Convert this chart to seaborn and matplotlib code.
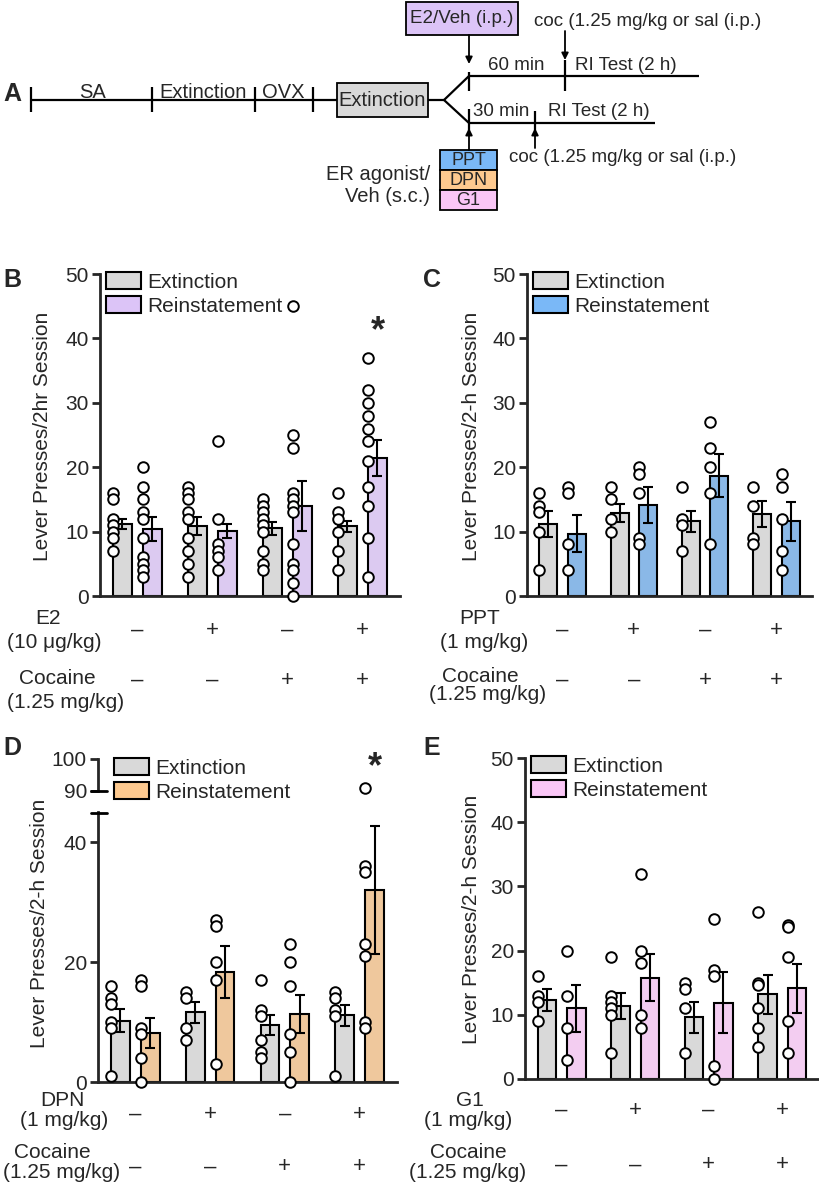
import numpy as np
import pandas as pd
import matplotlib
matplotlib.use("Agg")
import matplotlib.pyplot as plt
import seaborn as sns
from matplotlib import font_manager, transforms
from matplotlib.patches import Patch, Rectangle

# ---------------- data ----------------
groups = ["1", "2", "3", "4"]
phases = ["Extinction", "Reinstatement"]
treat_signs = ["–", "+", "–", "+"]
coc_signs = ["–", "–", "+", "+"]

B_ext_pts = [[16, 15, 12, 11, 10, 9, 7], [17, 16, 15, 13, 12, 9, 7, 5, 3],
             [15, 14, 13, 12, 11, 10, 7, 5, 4], [16, 13, 12, 10, 7, 4]]
B_rei_pts = [[20, 17, 15, 13, 12, 9, 6, 5, 4, 3], [24, 12, 8, 7, 6, 4],
             [45, 25, 23, 16, 15, 14, 13, 8, 5, 4, 2, 0],
             [37, 32, 30, 28, 26, 24, 21, 17, 14, 9, 3]]
B_ext_mean = [11.2, 10.9, 10.5, 10.8]
B_ext_sem = [0.8, 1.4, 1.0, 0.9]
B_rei_mean = [10.4, 10.1, 14.0, 21.4]
B_rei_sem = [1.8, 1.1, 3.9, 2.8]

C_ext_pts = [[16, 14, 13, 10, 4], [17, 15, 12, 10], [17, 12, 11, 7], [17, 14, 9, 8]]
C_rei_pts = [[17, 16, 8, 4], [20, 19, 16, 9, 8], [27, 23, 20, 16, 8], [19, 17, 12, 7, 4]]
C_ext_mean = [11.2, 12.9, 11.6, 12.7]
C_ext_sem = [2.0, 1.4, 1.6, 2.0]
C_rei_mean = [9.7, 14.1, 18.7, 11.6]
C_rei_sem = [2.9, 2.8, 3.3, 3.0]

D_ext_pts = [[16, 14, 13, 10, 9, 1], [15, 14, 9, 7], [17, 12, 11, 7, 5, 4], [15, 14, 12, 11, 1]]
D_rei_pts = [[17, 16, 9, 8, 4, 0], [27, 26, 20, 17, 3], [23, 20, 16, 8, 5, 0],
             [91, 36, 35, 23, 21, 10, 9]]
D_ext_mean = [10.2, 11.6, 9.5, 11.1]
D_ext_sem = [1.9, 1.75, 1.7, 1.8]
D_rei_mean = [8.1, 18.3, 11.3, 32.0]
D_rei_sem = [2.5, 4.3, 3.2, 10.6]

E_ext_pts = [[16, 13, 12, 9], [19, 13, 12, 11, 10, 4], [15, 14, 11, 4], [26, 15, 14.7, 11, 8, 5]]
E_rei_pts = [[20, 13, 8, 3], [32, 20, 18, 10, 8], [25, 17, 16, 2, 0], [24, 23.7, 19, 9, 4]]
E_ext_mean = [12.3, 11.4, 9.6, 13.2]
E_ext_sem = [1.65, 2.0, 2.4, 3.0]
E_rei_mean = [11.0, 15.8, 11.9, 14.1]
E_rei_sem = [3.7, 3.7, 4.8, 3.8]

GRAY = "#d9d9d9"
PURPLE = "#dcc4f7"
BLUE = "#7ab8f7"
ORANGE = "#fdc98f"
PINK = "#fac6f6"

# ---------------- style ----------------
sns.set_style("ticks")
names = {f.name for f in font_manager.fontManager.ttflist}
REG = "Liberation Sans" if "Liberation Sans" in names else "DejaVu Sans"
plt.rcParams["font.family"] = [REG, "DejaVu Sans"]
FS = 15

W, H = 820, 1189
fig = plt.figure(figsize=(8.2, 11.89), dpi=100)

# overlay axes in pixel coordinates for annotations
axA = fig.add_axes([0, 0, 1, 1])
axA.set_xlim(0, W)
axA.set_ylim(H, 0)
axA.axis("off")
axA.set_zorder(10)
axA.patch.set_visible(False)


def make_ax(l, t, r, b):
    ax = fig.add_axes([l / W, 1 - b / H, (r - l) / W, (b - t) / H])
    ax.set_facecolor("none")
    return ax


def draw_bars(ax, ext_mean, rei_mean, color):
    df = pd.DataFrame({"group": groups * 2,
                       "phase": [phases[0]] * 4 + [phases[1]] * 4,
                       "value": list(ext_mean) + list(rei_mean)})
    sns.barplot(data=df, x="group", y="value", hue="phase", order=groups,
                hue_order=phases, palette=[GRAY, color], width=0.8, gap=0.375,
                errorbar=None, edgecolor="black", linewidth=1.5, ax=ax,
                legend=False, zorder=2)


def draw_err(ax, ext_mean, ext_sem, rei_mean, rei_sem):
    x = np.arange(4)
    for off, m, s in [(-0.2, ext_mean, ext_sem), (0.2, rei_mean, rei_sem)]:
        ax.errorbar(x + off, m, yerr=s, fmt="none", ecolor="black",
                    elinewidth=1.5, capsize=3.5, capthick=1.5, zorder=3)


def draw_pts(ax, ext_pts, rei_pts, lo=-np.inf, hi=np.inf):
    xs, ys = [], []
    for i in range(4):
        for off, pts in [(-0.325, ext_pts[i]), (0.075, rei_pts[i])]:
            for v in pts:
                if lo <= v <= hi:
                    xs.append(i + off)
                    ys.append(v)
    if xs:
        ax.scatter(xs, ys, s=58, facecolor="white", edgecolor="black",
                   linewidth=1.4, zorder=4, clip_on=False)


def style_ax(ax, ticks, bottom=True):
    ax.set_xlim(-0.5, 3.5)
    ax.set_xticks([])
    ax.set_xlabel("")
    ax.set_ylabel("")
    for s in ["top", "right"]:
        ax.spines[s].set_visible(False)
    ax.spines["left"].set_linewidth(2)
    ax.spines["bottom"].set_linewidth(2)
    if not bottom:
        ax.spines["bottom"].set_visible(False)
    ax.set_yticks(ticks)
    ax.set_yticklabels([str(t) for t in ticks])
    ax.tick_params(axis="y", length=6, width=2, labelsize=FS, pad=2,
                   direction="out")


def legend(ax, color, x, y):
    handles = [Patch(facecolor=GRAY, edgecolor="black", linewidth=1.5),
               Patch(facecolor=color, edgecolor="black", linewidth=1.5)]
    ax.legend(handles, phases, loc="upper left",
              bbox_to_anchor=(x / W, 1 - y / H), bbox_transform=fig.transFigure,
              frameon=False, fontsize=FS, handlelength=1.7, handleheight=0.9,
              handletextpad=0.3, labelspacing=0.2, borderpad=0, borderaxespad=0)


def sign_rows(ax, treat_name, treat_dose, ty, lab_x, tsy, csy,
              coc_lab_x, coc_lab_y):
    tr = transforms.blended_transform_factory(ax.transData, axA.transData)
    for i in range(4):
        ax.text(i, tsy, treat_signs[i], transform=tr, ha="center", va="center",
                fontsize=16)
        ax.text(i, csy, coc_signs[i], transform=tr, ha="center", va="center",
                fontsize=16)
    axA.text(lab_x[0], ty[0], treat_name, ha="center", va="center", fontsize=FS)
    axA.text(lab_x[1], ty[1], treat_dose, ha="center", va="center", fontsize=FS)
    axA.text(coc_lab_x[0], coc_lab_y[0], "Cocaine", ha="center", va="center",
             fontsize=FS)
    axA.text(coc_lab_x[1], coc_lab_y[1], "(1.25 mg/kg)", ha="center",
             va="center", fontsize=FS)


# ---------------- Panel B ----------------
axB = make_ax(100, 274, 400, 596)
draw_bars(axB, B_ext_mean, B_rei_mean, PURPLE)
draw_err(axB, B_ext_mean, B_ext_sem, B_rei_mean, B_rei_sem)
draw_pts(axB, B_ext_pts, B_rei_pts)
axB.set_ylim(0, 50)
style_ax(axB, [0, 10, 20, 30, 40, 50])
legend(axB, PURPLE, 106, 272)
axB.text(3.2, 41, "*", ha="center", va="center", fontsize=26, fontweight="bold")
axA.text(43, 436, "Lever Presses/2hr Session", rotation=90, ha="center",
         va="center", fontsize=FS)
sign_rows(axB, "E2", "(10 μg/kg)", (618, 643), (48, 54), 630, 680,
          (57, 66), (678, 703))

# ---------------- Panel C ----------------
axC = make_ax(527, 274, 812, 596)
draw_bars(axC, C_ext_mean, C_rei_mean, BLUE)
draw_err(axC, C_ext_mean, C_ext_sem, C_rei_mean, C_rei_sem)
draw_pts(axC, C_ext_pts, C_rei_pts)
axC.set_ylim(0, 50)
style_ax(axC, [0, 10, 20, 30, 40, 50])
legend(axC, BLUE, 533, 272)
axA.text(472, 436, "Lever Presses/2-h Session", rotation=90, ha="center",
         va="center", fontsize=FS)
sign_rows(axC, "PPT", "(1 mg/kg)", (618, 643), (480, 484), 630, 680,
          (480, 488), (677, 695))

# ---------------- Panel D (broken axis) ----------------
axD = make_ax(98, 812, 397, 1082)
draw_bars(axD, D_ext_mean, D_rei_mean, ORANGE)
draw_err(axD, D_ext_mean, D_ext_sem, D_rei_mean, D_rei_sem)
draw_pts(axD, D_ext_pts, D_rei_pts, hi=45)
axD.set_ylim(0, 45)
style_ax(axD, [0, 20, 40])
axD.spines["left"].set_bounds(0, 45)

axDu = make_ax(98, 740, 397, 800)
top_px, bot_px = 740, 800
v90, v100 = 791, 759
ppu = (v90 - v100) / 10
axDu.set_ylim(90 - (bot_px - v90) / ppu, 90 + (v90 - top_px) / ppu)
draw_pts(axDu, D_ext_pts, D_rei_pts, lo=46)
style_ax(axDu, [90, 100], bottom=False)
axDu.spines["left"].set_bounds(90, 100)
axDu.text(3.2, 97.2, "*", ha="center", va="center", fontsize=26,
          fontweight="bold")
legend(axDu, ORANGE, 114, 758)
axA.plot([91, 107], [791, 791], color="black", lw=2)
axA.plot([91, 107], [813, 813], color="black", lw=2)
axA.text(40, 923, "Lever Presses/2-h Session", rotation=90, ha="center",
         va="center", fontsize=FS)
sign_rows(axD, "DPN", "(1 mg/kg)", (1101, 1120), (62, 64), 1114, 1167,
          (52, 62), (1153, 1173))

# ---------------- Panel E ----------------
axE = make_ax(525, 758, 819, 1079)
draw_bars(axE, E_ext_mean, E_rei_mean, PINK)
draw_err(axE, E_ext_mean, E_ext_sem, E_rei_mean, E_rei_sem)
draw_pts(axE, E_ext_pts, E_rei_pts)
axE.set_ylim(0, 50)
style_ax(axE, [0, 10, 20, 30, 40, 50])
legend(axE, PINK, 531, 756)
axA.text(472, 919, "Lever Presses/2-h Session", rotation=90, ha="center",
         va="center", fontsize=FS)
sign_rows(axE, "G1", "(1 mg/kg)", (1101, 1120), (470, 468), 1110, 1165,
          (468, 468), (1153, 1173))

# ---------------- panel letters ----------------
for txt, x, y in [("A", 12, 94), ("B", 12, 280), ("C", 432, 280),
                  ("D", 12, 748), ("E", 432, 748)]:
    axA.text(x, y, txt, ha="center", va="center", fontsize=18,
             fontweight="bold")

# ---------------- Panel A: timeline ----------------
lw = 1.6
k = dict(color="black", lw=lw, solid_capstyle="butt")
ML, UL, LL = 100, 76, 123
axA.plot([31, 337], [ML, ML], **k)
for x in [31, 152, 255, 313]:
    axA.plot([x, x], [ML - 13, ML + 12], **k)
axA.text(93, ML - 8, "SA", ha="center", va="center", fontsize=14.5)
axA.text(203, ML - 8, "Extinction", ha="center", va="center", fontsize=14.5)
axA.text(283, ML - 8, "OVX", ha="center", va="center", fontsize=14.5)
axA.add_patch(Rectangle((337, ML - 17), 91, 34, facecolor=GRAY,
                        edgecolor="black", lw=1.3))
axA.text(382.5, ML + 1, "Extinction", ha="center", va="center", fontsize=14.5)
axA.plot([428, 444], [ML, ML], **k)
axA.plot([444, 469, 699], [ML, UL, UL], **k)
axA.plot([444, 469, 655], [ML, LL, LL], **k)
# upper branch
axA.add_patch(Rectangle((406, 2), 112, 33, facecolor=PURPLE, edgecolor="black",
                        lw=1.3))
axA.text(462, 18.5, "E2/Veh (i.p.)", ha="center", va="center", fontsize=13.5)
arr = dict(arrowstyle="-|>", color="black", lw=1.3, mutation_scale=10,
           shrinkA=0, shrinkB=0)
axA.annotate("", xy=(469, 64), xytext=(469, 35), arrowprops=arr)
axA.plot([469, 469], [UL - 4, UL + 15], **k)
axA.plot([565, 565], [UL - 16, UL + 15], **k)
axA.annotate("", xy=(565, 60), xytext=(565, 31), arrowprops=arr)
axA.text(534, 21, "coc (1.25 mg/kg or sal (i.p.)", ha="left", va="center",
         fontsize=13.5)
axA.text(516, UL - 11, "60 min", ha="center", va="center", fontsize=13.5)
axA.text(626, UL - 11, "RI Test (2 h)", ha="center", va="center",
         fontsize=13.5)
# lower branch
axA.plot([469, 469], [LL - 14, LL + 10], **k)
axA.plot([535, 535], [LL - 12, LL + 10], **k)
axA.text(501, LL - 11, "30 min", ha="center", va="center", fontsize=13.5)
axA.text(599, LL - 11, "RI Test (2 h)", ha="center", va="center",
         fontsize=13.5)
axA.annotate("", xy=(469, LL + 5), xytext=(469, 150), arrowprops=arr)
axA.annotate("", xy=(535, LL + 5), xytext=(535, 148), arrowprops=arr)
axA.text(509, 158, "coc (1.25 mg/kg or sal (i.p.)", ha="left", va="center",
         fontsize=13.5)
for (lab, col, y0) in [("PPT", BLUE, 150), ("DPN", ORANGE, 170),
                       ("G1", PINK, 190)]:
    axA.add_patch(Rectangle((440, y0), 57, 20, facecolor=col,
                            edgecolor="black", lw=1.3))
    axA.text(468.5, y0 + 10.5, lab, ha="center", va="center", fontsize=13)
axA.text(430, 175, "ER agonist/", ha="right", va="center", fontsize=14.5)
axA.text(430, 197, "Veh (s.c.)", ha="right", va="center", fontsize=14.5)

fig.savefig("out.png", dpi=100)
